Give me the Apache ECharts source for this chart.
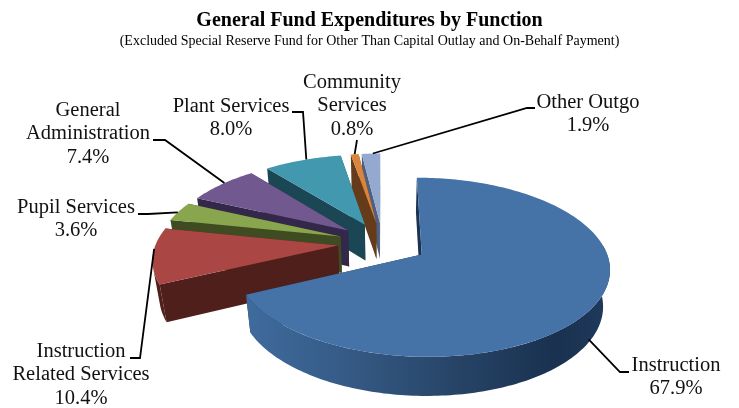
<!DOCTYPE html>
<html>
<head>
<meta charset="utf-8">
<style>html,body{margin:0;padding:0;background:#fff}#chart{width:739px;height:408px}</style>
<script src="https://cdn.jsdelivr.net/npm/echarts@6/dist/echarts.min.js"></script>
</head>
<body>
<div id="chart"></div>
<script>
// Budget shares, clockwise from twelve o'clock
const categories = ['Instruction', 'Instruction\nRelated Services', 'Pupil Services', 'General\nAdministration', 'Plant Services', 'Community\nServices', 'Other Outgo'];
const values = [67.9, 10.4, 3.6, 7.4, 8.0, 0.8, 1.9];
const topColors = ['#4572A7', '#AA4643', '#89A54E', '#71588F', '#4198AF', '#DB843D', '#93A9CF'];
const wallColors = ['#1b3350', '#4f1f1b', '#3f4c22', '#33274a', '#1a4753', '#663b1a', '#4f5f80'];

// Perspective pie: unit radius on the ground plane, x to the right, d away from the viewer
const view = { cx: 382.5, cy: 243, ax: 182, ay: 84.5, persp: 0.14, drop: 37.5, dropPersp: 0.03, explode: 0.245, explodeFirst: 0.25 };

function project(x, d, z) {
  const s = 1 / (1 + view.persp * d + view.dropPersp * z);
  return [view.cx + view.ax * x * s, view.cy - (view.ay * d - view.drop * z) * s];
}

const total = values.reduce((a, b) => a + b, 0);
const slices = [];
values.reduce((start, v, i) => {
  const end = start + v / total * Math.PI * 2;
  const mid = (start + end) / 2;
  const e = i === 0 ? view.explodeFirst : view.explode;
  slices.push({ start, end, ox: Math.sin(mid) * e, od: Math.cos(mid) * e });
  return end;
}, 0);

function rim(sl, t, z) {
  return project(sl.ox + Math.sin(t), sl.od + Math.cos(t), z);
}

function arcPoints(sl, a, b, z) {
  const n = Math.max(2, Math.ceil((b - a) / 0.02));
  const pts = [];
  for (let i = 0; i <= n; i++) pts.push(rim(sl, a + (b - a) * i / n, z));
  return pts;
}

function renderSlice(params, api) {
  const i = api.value(0);
  const sl = slices[i];
  const apexTop = project(sl.ox, sl.od, 0);
  const apexBottom = project(sl.ox, sl.od, 1);
  const wall = wallColors[i];
  const children = [];
  const poly = (points, fill) => children.push({ type: 'polygon', silent: true, shape: { points }, style: { fill } });

  poly([apexTop, rim(sl, sl.start, 0), rim(sl, sl.start, 1), apexBottom], wall);
  poly([apexTop, rim(sl, sl.end, 0), rim(sl, sl.end, 1), apexBottom], wall);

  // Curved outer wall, only over the part of the arc that faces the viewer;
  // slices left of centre turn away from the camera earlier
  const a = Math.max(sl.start, Math.PI / 2 - 0.1);
  const b = Math.min(sl.end, Math.PI * 1.5 - 0.25);
  if (b > a) {
    const curve = arcPoints(sl, a, b, 0).concat(arcPoints(sl, a, b, 1).reverse());
    const fill = i === 0
      ? new echarts.graphic.LinearGradient(0, 0, 1, 0, [
          { offset: 0, color: '#3f6b9d' },
          { offset: 0.25, color: '#365c88' },
          { offset: 0.55, color: '#284669' },
          { offset: 0.85, color: '#1a3150' },
          { offset: 1, color: '#1f3a5c' }
        ])
      : wall;
    poly(curve, fill);
  }

  poly([apexTop].concat(arcPoints(sl, sl.start, sl.end, 0)), topColors[i]);
  return { type: 'group', children };
}

// Label blocks and leader routes; each leader ends on its slice's rim
const labelLayout = [
  { x: 676, y: 377, route: [[629, 372], [620, 372]], frac: 0.5, z: 0.9 },
  { x: 81, y: 375, route: [[130, 358], [140, 358]], frac: 0.62, z: 0 },
  { x: 76, y: 219, route: [[138, 214], [148, 214]], frac: 0.45, z: 0 },
  { x: 88, y: 134, route: [[153, 140], [165, 140]], frac: 0.55, z: 0 },
  { x: 231, y: 118, route: [[292, 112], [303, 112]], frac: 0.55, z: 0 },
  { x: 352, y: 106, route: [[357, 140]], frac: 0.5, z: 0 },
  { x: 588, y: 114, route: [[535, 108], [527, 108]], frac: 0.6, z: 0 }
];

function renderLabel(params, api) {
  const i = api.value(0);
  const sl = slices[i];
  const pos = labelLayout[i];
  const end = rim(sl, sl.start + (sl.end - sl.start) * pos.frac, pos.z);
  return {
    type: 'group',
    children: [
      { type: 'polyline', silent: true, shape: { points: pos.route.concat([end]) }, style: { stroke: '#000', lineWidth: 1.8, fill: null } },
      { type: 'text', silent: true, x: pos.x, y: pos.y, style: {
        text: categories[i] + '\n' + values[i].toFixed(1) + '%',
        font: '20.5px "Liberation Serif", serif', fill: '#111', align: 'center', verticalAlign: 'middle', lineHeight: 23.5
      } }
    ]
  };
}

const chart = echarts.init(document.getElementById('chart'), null, { renderer: 'canvas' });
chart.setOption({
  animation: false,
  backgroundColor: '#fff',
  title: {
    text: 'General Fund Expenditures by Function',
    subtext: '(Excluded Special Reserve Fund for Other Than Capital Outlay and On-Behalf Payment)',
    left: 'center', top: 5, itemGap: 2, padding: 5,
    textStyle: { fontFamily: 'Liberation Serif', fontSize: 20, fontWeight: 'bold', color: '#000', lineHeight: 22 },
    subtextStyle: { fontFamily: 'Liberation Serif', fontSize: 14, color: '#000', lineHeight: 15 }
  },
  series: [
    // Drawn far to near, so the large front slice overlaps the others
    { type: 'custom', coordinateSystem: 'none', renderItem: renderSlice, z: 2,
      data: categories.map((c, i) => ({ name: c, value: [i, values[i]] })).reverse() },
    { type: 'custom', coordinateSystem: 'none', renderItem: renderLabel, z: 3,
      data: categories.map((c, i) => ({ name: c, value: [i, values[i]] })) }
  ]
});
</script>
</body>
</html>
